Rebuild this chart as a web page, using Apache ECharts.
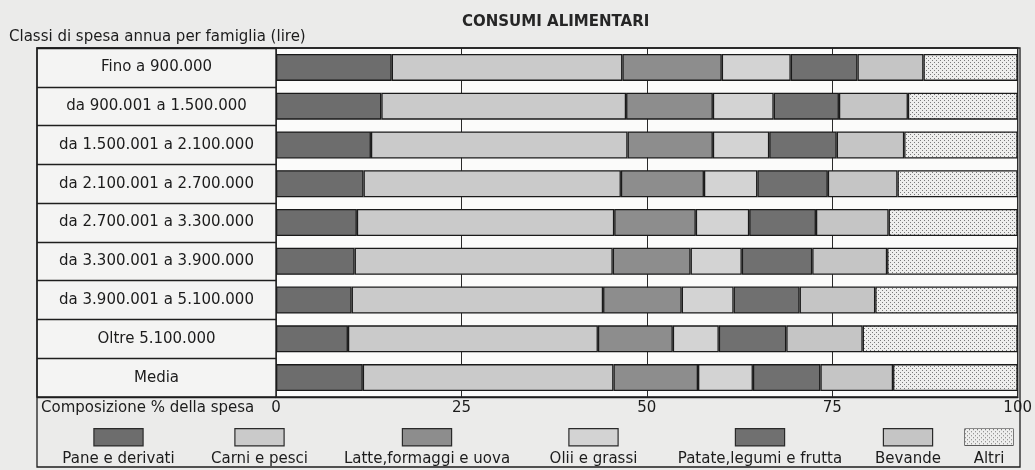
<!DOCTYPE html>
<html>
<head>
<meta charset="utf-8">
<script src="https://cdn.jsdelivr.net/npm/echarts@6/dist/echarts.min.js"></script>
<style>
  html, body { margin: 0; padding: 0; background: #ebebea; }
  #chart { width: 1035px; height: 470px; }
</style>
</head>
<body>
<div id="chart"></div>
<script>
// Classi di spesa annua per famiglia (lire)
const categories = [
  'Fino a 900.000',
  'da 900.001 a 1.500.000',
  'da 1.500.001 a 2.100.000',
  'da 2.100.001 a 2.700.000',
  'da 2.700.001 a 3.300.000',
  'da 3.300.001 a 3.900.000',
  'da 3.900.001 a 5.100.000',
  'Oltre 5.100.000',
  'Media'
];

// Composizione % della spesa alimentare, una voce per serie
const pane    = [15.6, 14.2, 12.8, 11.8, 10.9, 10.6, 10.2,  9.7, 11.7];
const carni   = [31.1, 33.0, 34.6, 34.7, 34.7, 34.8, 33.9, 33.7, 33.8];
const latte   = [13.4, 11.7, 11.5, 11.2, 11.0, 10.5, 10.6, 10.1, 11.4];
const olii    = [ 9.3,  8.2,  7.6,  7.2,  7.2,  6.9,  7.0,  6.2,  7.4];
const patate  = [ 9.0,  8.8,  9.1,  9.5,  9.0,  9.5,  8.9,  9.1,  9.1];
const bevande = [ 8.9,  9.3,  9.1,  9.4,  9.8, 10.1, 10.2, 10.3,  9.8];
const altri   = [12.7, 14.8, 15.3, 16.2, 17.4, 17.6, 19.2, 20.9, 16.8];

const seriesNames = [
  'Pane e derivati', 'Carni e pesci', 'Latte,formaggi e uova', 'Olii e grassi',
  'Patate,legumi e frutta', 'Bevande', 'Altri'
];
const seriesValues = [pane, carni, latte, olii, patate, bevande, altri];

// Asse percentuale
const axisMin = 0, axisMax = 100, axisStep = 25;

// ---- styling ----
const FONT = 'DejaVu Sans';
const INK = '#1c1c1c';
const solidColors = ['#6d6d6d', '#cacaca', '#8d8d8d', '#d3d3d3', '#707070', '#c5c5c5'];
// legend text block widths, so each swatch sits above its caption
const legendTextWidths = [129, 109, 182, 107, 182, 70, 37];

// dotted halftone tile for "Altri"
function dotTile() {
  const c = document.createElement('canvas');
  c.width = 4; c.height = 4;
  const g = c.getContext('2d');
  g.fillStyle = '#eeeeed';
  g.fillRect(0, 0, 4, 4);
  g.fillStyle = '#7a7a7a';
  g.fillRect(0, 0, 1, 1);
  g.fillRect(2, 2, 1, 1);
  return c;
}
function dotSwatch(w, h) {
  const c = document.createElement('canvas');
  c.width = w; c.height = h;
  const g = c.getContext('2d');
  g.fillStyle = g.createPattern(dotTile(), 'repeat');
  g.fillRect(0, 0, w, h);
  return c;
}
const dotPattern = { image: dotTile(), repeat: 'repeat' };
const fills = solidColors.concat([dotPattern]);

const rich = {};
seriesNames.forEach((n, i) => {
  rich['s' + i] = {
    width: 48, height: 16,
    backgroundColor: i < 6 ? solidColors[i] : { image: dotSwatch(48, 16) },
    borderColor: '#2a2a2a', borderWidth: 1.2,
    align: 'center'
  };
  rich['t' + i] = {
    width: legendTextWidths[i], align: 'center',
    fontFamily: FONT, fontSize: 15, color: INK,
    lineHeight: 27, padding: [0, 0, 0, 0]
  };
});

const chart = echarts.init(document.getElementById('chart'), null, { renderer: 'canvas' });

const option = {
  backgroundColor: '#ebebea',
  animation: false,
  title: [
    {
      text: 'CONSUMI ALIMENTARI', left: 462, top: 15, padding: 0,
      textStyle: { fontFamily: FONT, fontSize: 15, fontWeight: 'bold', color: '#262626' }
    },
    {
      text: 'Classi di spesa annua per famiglia (lire)', left: 9, top: 30, padding: 0,
      textStyle: { fontFamily: FONT, fontSize: 15, fontWeight: 'normal', color: INK }
    },
    {
      text: 'Composizione % della spesa', left: 41, top: 401, padding: 0,
      textStyle: { fontFamily: FONT, fontSize: 15, fontWeight: 'normal', color: INK }
    }
  ],
  grid: [
    { left: 276, right: 15, top: 48, bottom: 73, show: true,
      backgroundColor: '#fbfbfa', borderColor: '#1e1e1e', borderWidth: 1.4 },
    { left: 37, width: 239, top: 48, bottom: 73, show: true,
      backgroundColor: '#f4f4f3', borderColor: '#1e1e1e', borderWidth: 1.4 }
  ],
  xAxis: [
    {
      gridIndex: 0, type: 'value', min: axisMin, max: axisMax, interval: axisStep,
      axisLine: { show: true, lineStyle: { color: '#1e1e1e', width: 1.4 } },
      axisTick: { show: false },
      splitLine: { show: true, lineStyle: { color: '#2a2a2a', width: 1 } },
      axisLabel: { fontFamily: FONT, fontSize: 15, color: INK, margin: 4 }
    },
    { gridIndex: 1, type: 'value', min: 0, max: 1, show: false }
  ],
  yAxis: [
    {
      gridIndex: 0, type: 'category', data: categories, inverse: true,
      axisLine: { show: false }, axisTick: { show: false }, axisLabel: { show: false },
      splitLine: { show: false }
    },
    {
      gridIndex: 1, type: 'category', data: categories, inverse: true, position: 'left',
      axisLine: { show: false }, axisTick: { show: false },
      splitLine: { show: true, lineStyle: { color: '#1e1e1e', width: 1.3 } },
      axisLabel: {
        fontFamily: FONT, fontSize: 15, color: INK,
        align: 'center', margin: -119.5
      }
    }
  ],
  legend: {
    left: 48, top: 428, padding: 0, itemGap: 16,
    itemWidth: 0, itemHeight: 0, icon: 'rect',
    selectedMode: false,
    data: seriesNames,
    formatter: function (name) {
      const i = seriesNames.indexOf(name);
      return '{s' + i + '|}\n{t' + i + '|' + name + '}';
    },
    textStyle: { rich: rich, fontFamily: FONT, fontSize: 15, color: INK }
  },
  graphic: [
    {
      type: 'rect', silent: true, z: 10,
      shape: { x: 37, y: 48, width: 983, height: 419 },
      style: { fill: 'none', stroke: '#1e1e1e', lineWidth: 1.3 }
    }
  ],
  series: seriesNames.map((name, i) => ({
    name: name,
    type: 'bar',
    stack: 'spesa',
    xAxisIndex: 0, yAxisIndex: 0,
    barWidth: 27,
    data: seriesValues[i],
    itemStyle: { color: fills[i], borderColor: '#1a1a1a', borderWidth: 1.3 },
    emphasis: { disabled: true }
  }))
};

chart.setOption(option);
</script>
</body>
</html>
